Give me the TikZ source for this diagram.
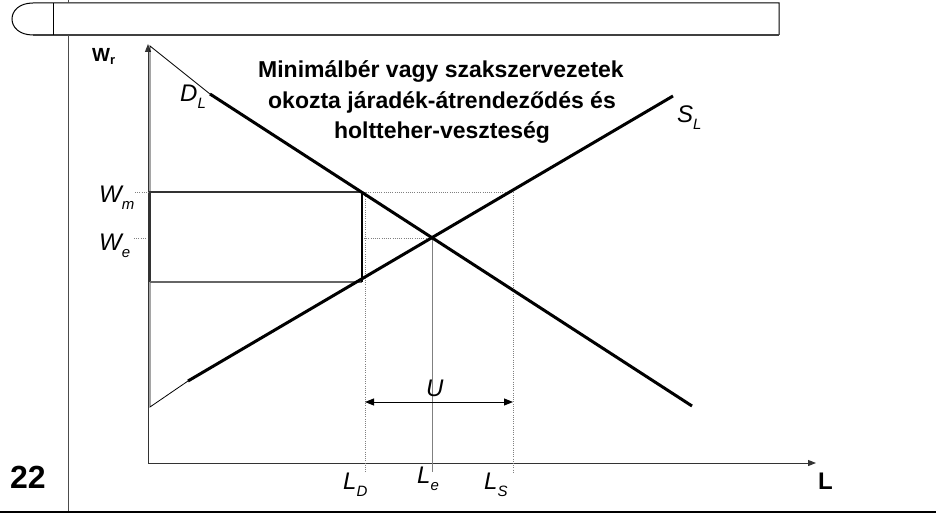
\documentclass[tikz,border=0pt]{standalone}
\usepackage{fontspec}
\setmainfont{Liberation Sans}
\usetikzlibrary{arrows.meta}
\newcommand{\lsub}[1]{\raisebox{-7pt}{\fontsize{15}{15}\selectfont #1}}
\begin{document}
\begin{tikzpicture}[x=1pt,y=-1pt,
  thinline/.style={line width=0.8pt},
  curveline/.style={line width=3pt},
  guide/.style={draw=gray, line width=0.8pt, dash pattern=on 1pt off 1.2pt},
  lbl/.style={anchor=base west, inner sep=0pt, font=\fontsize{24}{24}\selectfont\itshape},
  ttl/.style={anchor=base, inner sep=0pt, font=\fontsize{23}{23}\selectfont\bfseries},
  tip/.style={-{Triangle[length=8pt,width=6pt]}}]
\useasboundingbox (0,0) rectangle (936,518);
% frame
\coordinate (h1) at (33,3);
\coordinate (h2) at (779,3);
\coordinate (h3) at (779,35);
\coordinate (h4) at (33,35);
\coordinate (hv1) at (53,3);
\coordinate (hv2) at (53,35);
\draw[line width=1pt] (h4) .. controls (5,35) and (5,3) .. (h1) -- (h2) -- (h3);
\draw[line width=2pt, draw=black!75] (h4) -- (h3);
\draw[line width=0.8pt] (hv1) -- (hv2);
\coordinate (v0) at (68,0);
\coordinate (v1) at (68,3);
\coordinate (v2) at (68,35);
\coordinate (v3) at (68,511);
\draw[line width=1pt, draw=black!70] (v0) -- (v1) (v2) -- (v3);
\coordinate (b1) at (0,512);
\coordinate (b2) at (936,512);
\draw[line width=2.2pt] (b1) -- (b2);
\node[anchor=base west, inner sep=0pt, font=\fontsize{32}{32}\selectfont\bfseries] (num) at (10,488) {22};
% axes
\coordinate (O) at (148,463);
\coordinate (Ytop) at (148,44);
\coordinate (Xend) at (816,463);
\draw[tip, line width=1pt, draw=black!80] (O) -- (Ytop);
\draw[tip, line width=1pt, draw=black!80] (O) -- (Xend);
\node[anchor=base west, inner sep=0pt, font=\fontsize{19}{19}\selectfont\bfseries] (wr) at (92,62) {W\raisebox{-2.5pt}{\fontsize{13}{13}\selectfont r}};
\node[anchor=base west, inner sep=0pt, font=\fontsize{24}{24}\selectfont\bfseries] (lx) at (818,489) {L};
% triangle (thin extensions)
\coordinate (T1) at (150,46);
\coordinate (T2) at (150,407);
\coordinate (A) at (210,94);
\coordinate (B) at (692,406);
\coordinate (C) at (188,381);
\coordinate (D) at (673,96);
\draw[thinline] (A) -- (T1) -- (T2) -- (C);
% guides
\coordinate (E) at (432,238);
\coordinate (Wmt) at (135,192);
\coordinate (LSt) at (513,192);
\coordinate (LSb) at (513,472);
\coordinate (LDt) at (365,192);
\coordinate (LDb) at (365,472);
\coordinate (Leb) at (432,472);
\coordinate (Wet) at (134,238);
\coordinate (We1) at (147,238);
\coordinate (We2) at (364,238);
\draw[guide] (Wmt) -- (LSt) -- (LSb);
\draw[guide] (LDt) -- (LDb);
\draw[guide] (Wet) -- (We1) (We2) -- (E);
\draw[line width=0.8pt, draw=gray] (E) -- (Leb);
% rectangle
\coordinate (P1) at (150,192);
\coordinate (P2) at (362,192);
\coordinate (P3) at (362,282);
\coordinate (P4) at (150,282);
\draw[line width=1.4pt, draw=black!80] (P4) -- (P1) -- (P2);
\draw[line width=1.4pt, draw=black!60] (P4) -- (P3);
\draw[line width=1.6pt] (P2) -- (P3);
% curves
\draw[curveline] (A) -- (B);
\draw[curveline] (C) -- (D);
% U arrow
\coordinate (U1) at (365,402);
\coordinate (U2) at (513,402);
\draw[{Triangle[length=9pt,width=7pt]}-{Triangle[length=9pt,width=7pt]}, line width=1pt] (U1) -- (U2);
% labels
\node[lbl] (dl) at (180,101.5) {D\lsub{L}};
\node[lbl] (sl) at (677,123) {S\lsub{L}};
\node[lbl] (wm) at (99,203) {W\lsub{m}};
\node[lbl] (we) at (99,250.5) {W\lsub{e}};
\node[lbl] (u) at (426,396) {U};
\node[lbl] (ld) at (343,489) {L\lsub{D}};
\node[lbl] (le) at (417,483) {L\lsub{e}};
\node[lbl] (ls) at (484,489) {L\lsub{S}};
% title
\node[ttl] (t1) at (441,78) {Minimálbér vagy szakszervezetek};
\node[ttl] (t2) at (442,108.5) {okozta járadék-átrendeződés és};
\node[ttl] (t3) at (442,139) {holtteher-veszteség};
\end{tikzpicture}
\end{document}
